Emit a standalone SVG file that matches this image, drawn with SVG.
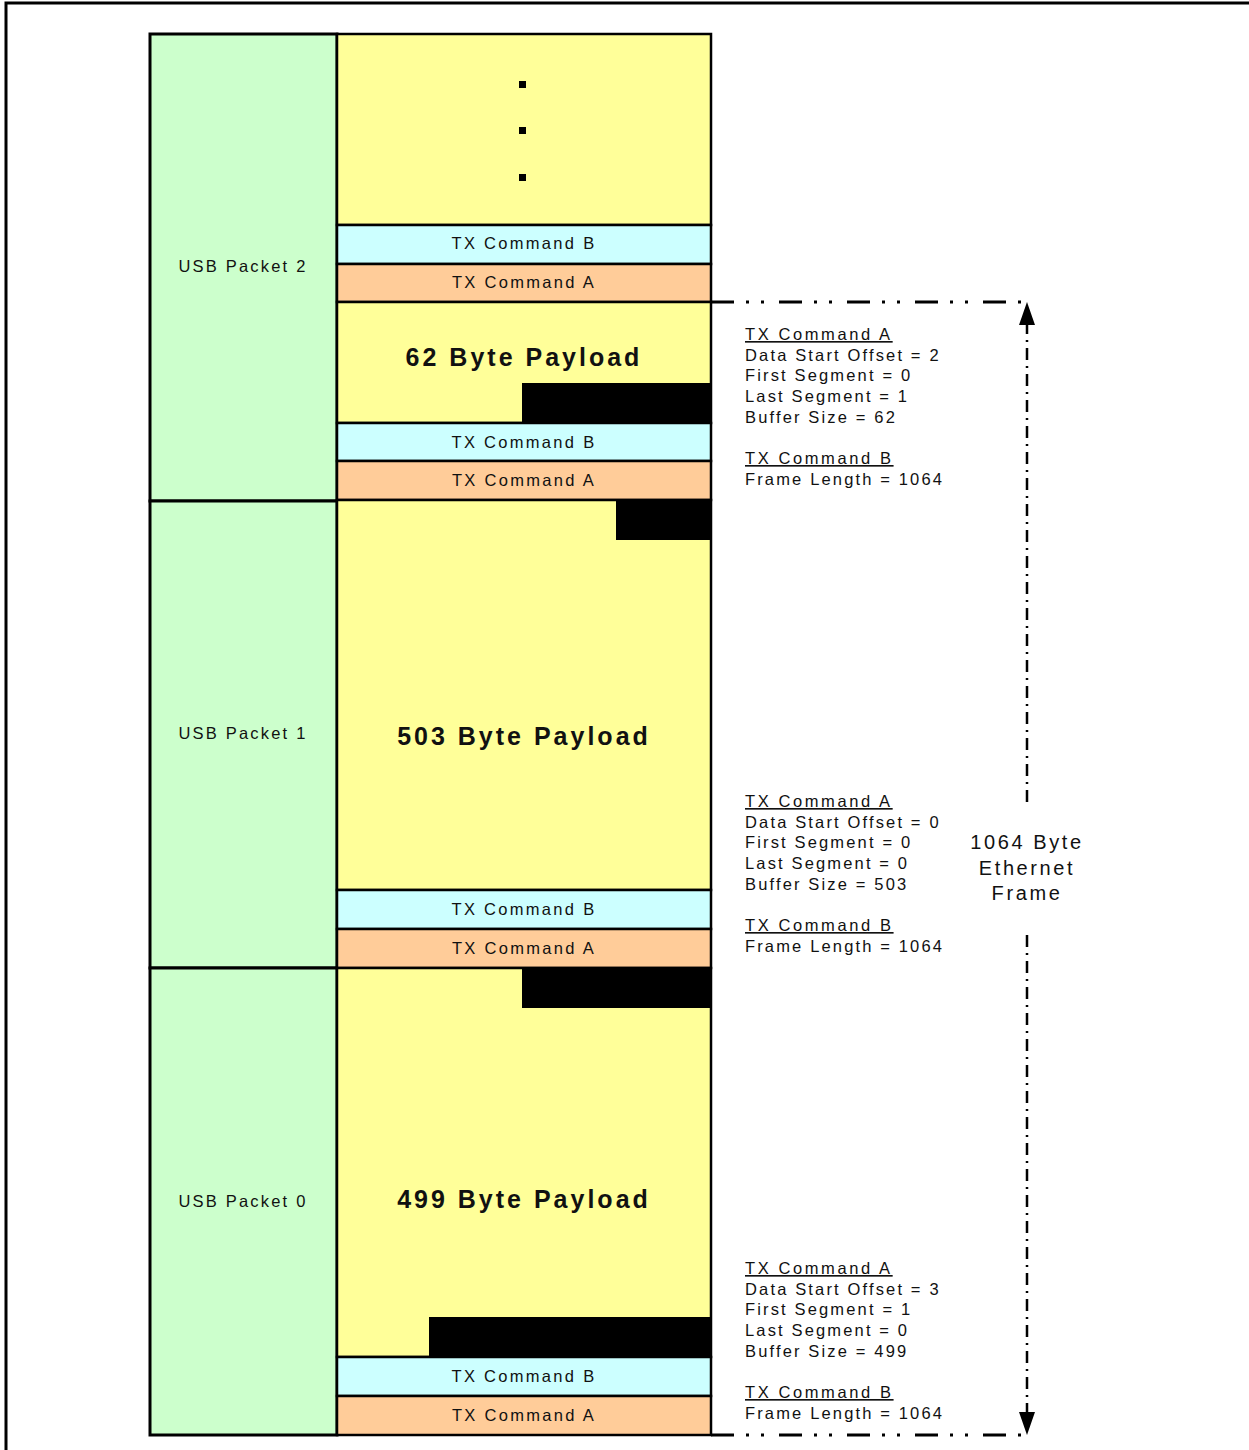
<svg xmlns="http://www.w3.org/2000/svg" width="1249" height="1450" viewBox="0 0 1249 1450">
<style>
.g{fill:#CCFFCC;stroke:#000;stroke-width:3}
.y{fill:#FFFF99;stroke:#000;stroke-width:2.5}
.c{fill:#CCFFFF;stroke:#000;stroke-width:2.5}
.o{fill:#FFCC99;stroke:#000;stroke-width:2.5}
.k{fill:#000}
text{font-family:"Liberation Sans",Arial,sans-serif;fill:#111}
.lbl{font-size:16.5px;letter-spacing:2.3px;text-anchor:middle}
.usb{font-size:16.5px;letter-spacing:2.2px;text-anchor:middle}
.pay{font-size:25px;font-weight:bold;letter-spacing:3px;text-anchor:middle}
.info{font-size:16.5px;letter-spacing:2.15px}
.u{text-decoration:underline;letter-spacing:2.6px}
.frame{font-size:20px;letter-spacing:2.6px;text-anchor:middle}
.dd{fill:none;stroke:#000;stroke-width:3;stroke-dasharray:23 12 3 12 3 15}
.dv{fill:none;stroke:#000;stroke-width:2.5;stroke-dasharray:12 6 2 6}
</style>
<rect x="6" y="3" width="1260" height="1470" fill="#fff" stroke="#000" stroke-width="3"/>

<g id="usb2"><rect class="g" x="150" y="34" width="187" height="467"/><text class="usb" x="243" y="272">USB Packet 2</text></g>
<g id="usb1"><rect class="g" x="150" y="501" width="187" height="467"/><text class="usb" x="243" y="739">USB Packet 1</text></g>
<g id="usb0"><rect class="g" x="150" y="968" width="187" height="467"/><text class="usb" x="243" y="1207">USB Packet 0</text></g>

<g id="more">
<rect class="y" x="337" y="34" width="374" height="191"/>
<rect class="k" x="519" y="81" width="7" height="7"/>
<rect class="k" x="519" y="127" width="7" height="7"/>
<rect class="k" x="519" y="174" width="7" height="7"/>
</g>
<g id="cmdB3"><rect class="c" x="337" y="225" width="374" height="39"/><text class="lbl" x="524" y="249">TX Command B</text></g>
<g id="cmdA3"><rect class="o" x="337" y="264" width="374" height="38"/><text class="lbl" x="524" y="288">TX Command A</text></g>

<g id="payload62">
<rect class="y" x="337" y="302" width="374" height="121"/>
<rect class="k" x="522" y="383" width="190" height="40"/>
<text class="pay" x="524" y="366">62 Byte Payload</text>
</g>
<g id="cmdB2"><rect class="c" x="337" y="423" width="374" height="38"/><text class="lbl" x="524" y="448">TX Command B</text></g>
<g id="cmdA2"><rect class="o" x="337" y="461" width="374" height="39"/><text class="lbl" x="524" y="486">TX Command A</text></g>

<g id="payload503">
<rect class="y" x="337" y="500" width="374" height="390"/>
<rect class="k" x="616" y="500" width="96" height="40"/>
<text class="pay" x="524" y="745">503 Byte Payload</text>
</g>
<g id="cmdB1"><rect class="c" x="337" y="890" width="374" height="39"/><text class="lbl" x="524" y="915">TX Command B</text></g>
<g id="cmdA1"><rect class="o" x="337" y="929" width="374" height="39"/><text class="lbl" x="524" y="954">TX Command A</text></g>

<g id="payload499">
<rect class="y" x="337" y="968" width="374" height="389"/>
<rect class="k" x="522" y="968" width="190" height="40"/>
<rect class="k" x="429" y="1317" width="283" height="40"/>
<text class="pay" x="524" y="1208">499 Byte Payload</text>
</g>
<g id="cmdB0"><rect class="c" x="337" y="1357" width="374" height="39"/><text class="lbl" x="524" y="1382">TX Command B</text></g>
<g id="cmdA0"><rect class="o" x="337" y="1396" width="374" height="39"/><text class="lbl" x="524" y="1421">TX Command A</text></g>

<g id="info2">
<text class="info u" x="745" y="340">TX Command A</text>
<text class="info" x="745" y="361">Data Start Offset = 2</text>
<text class="info" x="745" y="381">First Segment = 0</text>
<text class="info" x="745" y="402">Last Segment = 1</text>
<text class="info" x="745" y="423">Buffer Size = 62</text>
<text class="info u" x="745" y="464">TX Command B</text>
<text class="info" x="745" y="485">Frame Length = 1064</text>
</g>
<g id="info1">
<text class="info u" x="745" y="807">TX Command A</text>
<text class="info" x="745" y="828">Data Start Offset = 0</text>
<text class="info" x="745" y="848">First Segment = 0</text>
<text class="info" x="745" y="869">Last Segment = 0</text>
<text class="info" x="745" y="890">Buffer Size = 503</text>
<text class="info u" x="745" y="931">TX Command B</text>
<text class="info" x="745" y="952">Frame Length = 1064</text>
</g>
<g id="info0">
<text class="info u" x="745" y="1274">TX Command A</text>
<text class="info" x="745" y="1295">Data Start Offset = 3</text>
<text class="info" x="745" y="1315">First Segment = 1</text>
<text class="info" x="745" y="1336">Last Segment = 0</text>
<text class="info" x="745" y="1357">Buffer Size = 499</text>
<text class="info u" x="745" y="1398">TX Command B</text>
<text class="info" x="745" y="1419">Frame Length = 1064</text>
</g>

<g id="connectors">
<path class="dd" d="M711 302 H1027"/>
<path class="dd" d="M711 1435 H1027"/>
<path class="dv" d="M1027 322 V805"/>
<path class="dv" d="M1027 935 V1415"/>
<polygon points="1027,302 1019,325 1035,325" fill="#000"/>
<polygon points="1027,1435 1019,1412 1035,1412" fill="#000"/>
</g>
<g id="frameLabel">
<text class="frame" x="1027" y="849">1064 Byte</text>
<text class="frame" x="1027" y="875">Ethernet</text>
<text class="frame" x="1027" y="900">Frame</text>
</g>
</svg>
